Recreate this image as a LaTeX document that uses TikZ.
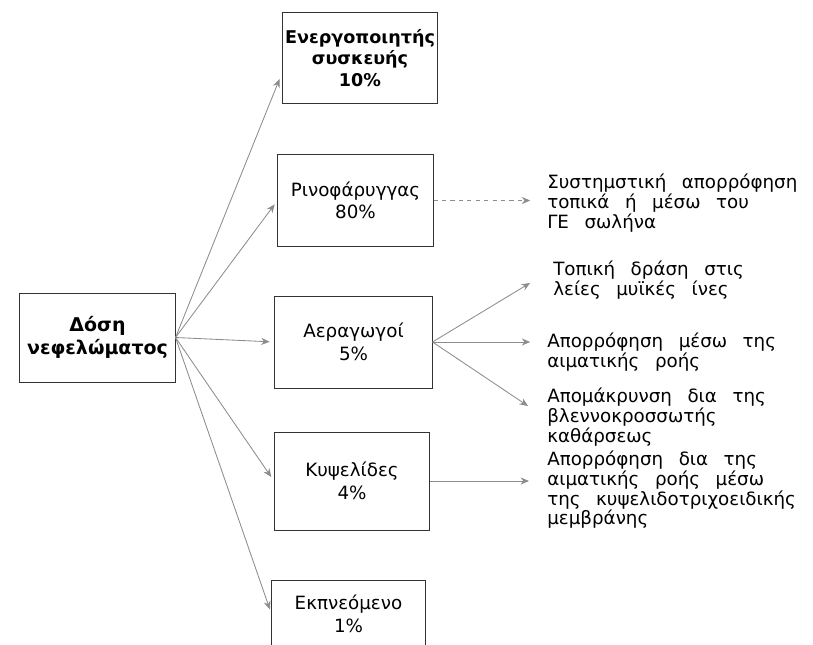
\documentclass[tikz,border=0pt]{standalone}
\usepackage{fontspec}
\setmainfont{DejaVu Sans}
\usetikzlibrary{arrows.meta,calc}
\newcommand\wordgap{\spaceskip=0.85em plus 0.2em\relax}
\begin{document}
\begin{tikzpicture}[x=0.025cm,y=-0.025cm,
  box/.style={draw=black!80,line width=0.7pt,align=center,inner sep=0pt,
    font=\fontsize{13}{16}\selectfont},
  route/.style={align=left,anchor=west,inner sep=0pt,
    font=\fontsize{13}{14}\selectfont\wordgap},
  feed/.style={draw=black!45,line width=0.6pt,-{Stealth[length=6pt,width=5pt]}}]
  \useasboundingbox (0,0) rectangle (813,644);
  \clip (0,0) rectangle (813,644);
  \node[box,font=\fontsize{13.5}{16}\selectfont\bfseries,minimum width=3.875cm,minimum height=2.225cm] (dose) at (97.5,337.5) {Δόση\\νεφελώματος};
  \node[box,font=\fontsize{12.5}{15.5}\selectfont\bfseries,minimum width=3.85cm,minimum height=2.25cm] (dev) at (360,58) {Ενεργοποιητής\\συσκευής\\10\%};
  \node[box,minimum width=3.875cm,minimum height=2.275cm] (naso) at (355.5,200.5) {Ρινοφάρυγγας\\80\%};
  \node[box,minimum width=3.925cm,minimum height=2.3cm] (airw) at (353.5,342) {Αεραγωγοί\\5\%};
  \node[box,minimum width=3.875cm,minimum height=2.45cm] (alv) at (352,481) {Κυψελίδες\\4\%};
  \node[box,minimum width=3.825cm,minimum height=1.7cm] (exh) at (348.5,614) {Εκπνεόμενο\\1\%};
  \node[route] (sys) at (547,203) {Συστημστική απορρόφηση\\τοπικά ή μέσω του\\ΓΕ σωλήνα};
  \node[route] (loc) at (553,280) {Τοπική δράση στις\\λείες μυϊκές ίνες};
  \node[route] (blood) at (547,352) {Απορρόφηση μέσω της\\αιματικής ροής};
  \node[route] (clear) at (547,417) {Απομάκρυνση δια της\\βλεννοκροσσωτής\\καθάρσεως};
  \node[route] (memb) at (547,490) {Απορρόφηση δια της\\αιματικής ροής μέσω\\της κυψελιδοτριχοειδικής\\μεμβράνης};
  \draw[feed,shorten >=0.2cm] (dose.east) -- (dev.190);
  \draw[feed,shorten >=0.12cm] (dose.east) -- (naso.west);
  \draw[feed,shorten >=0.12cm] (dose.east) -- (airw.west);
  \draw[feed,shorten >=0.12cm] (dose.east) -- (alv.west);
  \draw[feed,shorten >=0.12cm] (dose.east) -- (exh.west);
  \draw[feed,dashed,shorten >=0.42cm] (naso.east) -- (naso.east -| sys.west);
  \draw[feed] (airw.east) -- ($(loc.west)+(-23,3)$);
  \draw[feed,shorten >=0.42cm] (airw.east) -- (airw.east -| blood.west);
  \draw[feed] (airw.east) -- ($(clear.west)+(-19,-11)$);
  \draw[feed,shorten >=0.45cm] (alv.east) -- (alv.east -| memb.west);
\end{tikzpicture}
\end{document}
